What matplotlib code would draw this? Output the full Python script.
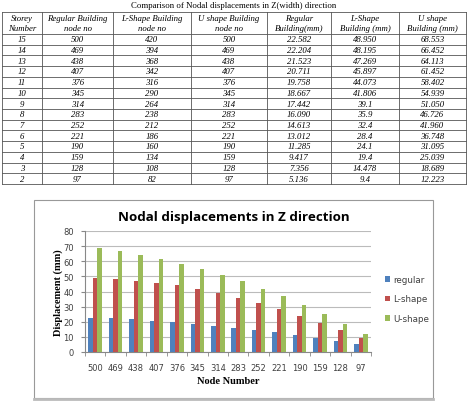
import matplotlib.pyplot as plt
import numpy as np

# table / chart data
storey = [15, 14, 13, 12, 11, 10, 9, 8, 7, 6, 5, 4, 3, 2]
regular_node = [500, 469, 438, 407, 376, 345, 314, 283, 252, 221, 190, 159, 128, 97]
lshape_node = [420, 394, 368, 342, 316, 290, 264, 238, 212, 186, 160, 134, 108, 82]
ushape_node = [500, 469, 438, 407, 376, 345, 314, 283, 252, 221, 190, 159, 128, 97]
regular_disp = ["22.582", "22.204", "21.523", "20.711", "19.758", "18.667", "17.442",
                "16.090", "14.613", "13.012", "11.285", "9.417", "7.356", "5.136"]
lshape_disp = ["48.950", "48.195", "47.269", "45.897", "44.073", "41.806", "39.1",
               "35.9", "32.4", "28.4", "24.1", "19.4", "14.478", "9.4"]
ushape_disp = ["68.553", "66.452", "64.113", "61.452", "58.402", "54.939", "51.050",
               "46.726", "41.960", "36.748", "31.095", "25.039", "18.689", "12.223"]
headers = ["Storey\nNumber", "Regular Building\nnode no", "L-Shape Building\nnode no",
           "U shape Building\nnode no", "Regular\nBuilding(mm)", "L-Shape\nBuilding (mm)",
           "U shape\nBuilding (mm)"]
series_names = ["regular", "L-shape", "U-shape"]
colors = ["#4F81BD", "#C0504D", "#9BBB59"]

W, H = 468, 402
fig = plt.figure(figsize=(W / 100, H / 100), dpi=100)
fig.patch.set_facecolor("white")

# background axes in pixel coords for table + chart frame
bg = fig.add_axes([0, 0, 1, 1])
bg.set_xlim(0, W)
bg.set_ylim(H, 0)
bg.axis("off")

serif = "Liberation Serif"
bg.text(234, 6, "Comparison of Nodal displacements in Z(width) direction",
        ha="center", va="center", fontsize=6.3, family=serif)

col_x = [2, 42, 113, 191, 267, 331, 399, 466]
top, head_bot, bot = 13, 35, 185
row_h = (bot - head_bot) / len(storey)
lc = "#555555"
for x in col_x:
    bg.plot([x, x], [top, bot], color=lc, lw=0.6)
bg.plot([col_x[0], col_x[-1]], [top, top], color=lc, lw=0.6)
bg.plot([col_x[0], col_x[-1]], [head_bot, head_bot], color=lc, lw=0.6)
for i in range(len(storey)):
    y = head_bot + (i + 1) * row_h
    bg.plot([col_x[0], col_x[-1]], [y, y], color=lc, lw=0.6)

for j, h in enumerate(headers):
    cx = (col_x[j] + col_x[j + 1]) / 2
    bg.text(cx, (top + head_bot) / 2, h, ha="center", va="center",
            fontsize=6.3, style="italic", family=serif, linespacing=1.2)

columns = [storey, regular_node, lshape_node, ushape_node,
           regular_disp, lshape_disp, ushape_disp]
for j, col in enumerate(columns):
    cx = (col_x[j] + col_x[j + 1]) / 2
    for i, v in enumerate(col):
        cy = head_bot + (i + 0.5) * row_h
        bg.text(cx, cy, str(v), ha="center", va="center",
                fontsize=6.3, style="italic", family=serif)

# chart frame
bg.add_patch(plt.Rectangle((34, 201), 399, 198, fill=False,
                           edgecolor="#999999", lw=0.8))
bg.plot([34, 433], [399.5, 399.5], color="#BBBBBB", lw=2)
bg.text(234, 218, "Nodal displacements in Z direction", ha="center", va="center",
        fontsize=9.6, fontweight="bold", family="Open Sans")

# bar chart
ax = fig.add_axes([85 / W, 1 - 353 / H, (371 - 85) / W, (353 - 232) / H])
x = np.arange(len(regular_node))
vals = [np.array(regular_disp, float), np.array(lshape_disp, float),
        np.array(ushape_disp, float)]
bw = 1 / 4.5
for k, (v, c, n) in enumerate(zip(vals, colors, series_names)):
    ax.bar(x + (k - 1) * bw, v, bw, color=c, label=n, zorder=3)

ax.set_xlim(-0.5, len(x) - 0.5)
ax.set_ylim(0, 80)
ax.set_yticks(range(0, 81, 10))
ax.yaxis.grid(True, color="#BBBBBB", lw=0.8, zorder=0)
ax.set_xticks(x)
ax.set_xticklabels(regular_node)
ax.set_xticks(np.arange(-0.5, len(x)), minor=True)
ax.tick_params(axis="x", which="major", length=0, pad=8, labelsize=6,
               labelcolor="#404040")
ax.tick_params(axis="x", which="minor", length=3, color="#888888")
ax.tick_params(axis="y", length=3, color="#888888", labelsize=6,
               labelcolor="#404040", pad=5)
for s in ["top", "right"]:
    ax.spines[s].set_visible(False)
ax.spines["left"].set_color("#888888")
ax.spines["bottom"].set_color("#888888")
ax.set_facecolor("none")
ax.set_xlabel("Node Number", fontsize=7.5, fontweight="bold", family=serif, labelpad=3)
ax.set_ylabel("Displacement (mm)", fontsize=7.5, fontweight="bold", family=serif,
              labelpad=0)

handles, labels = ax.get_legend_handles_labels()
fig.legend(handles, labels, loc="center left", bbox_to_anchor=(377 / W, 1 - 300 / H),
           frameon=False, fontsize=6.3, handlelength=0.6, handleheight=0.6,
           handletextpad=0.3, labelspacing=1.2, labelcolor="#404040")

fig.savefig("out.png", dpi=100, facecolor="white")
